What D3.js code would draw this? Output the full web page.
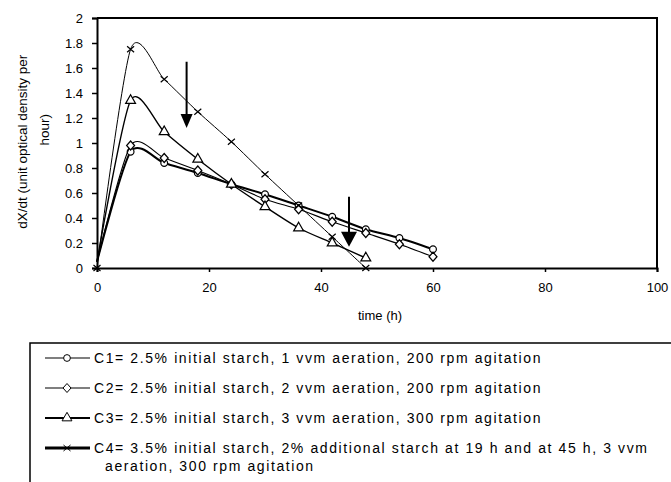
<!DOCTYPE html>
<html>
<head>
<meta charset="utf-8">
<script src="https://cdn.jsdelivr.net/npm/d3@7"></script>
<style>
  body { margin: 0; background: #fff; }
  svg { font-family: Arial, "Liberation Sans", sans-serif; }
</style>
</head>
<body>
<div id="chart"></div>
<script>
let width = 671
let height = 482

// sampling times (h) and the four runs
let times = [0, 6, 12, 18, 24, 30, 36, 42, 48, 54, 60]
let c1 = [0.05, 0.93, 0.84, 0.76, 0.67, 0.59, 0.50, 0.41, 0.31, 0.24, 0.15]
let c2 = [0.05, 0.98, 0.88, 0.78, 0.67, 0.55, 0.47, 0.37, 0.28, 0.19, 0.09]
let c3 = [0.05, 1.34, 1.09, 0.87, 0.67, 0.49, 0.32, 0.20, 0.08]
let c4 = [0, 1.75, 1.51, 1.25, 1.01, 0.75, 0.50, 0.25, 0]

let xTicks = [0, 20, 40, 60, 80, 100]
let yTicks = [0, 0.2, 0.4, 0.6, 0.8, 1, 1.2, 1.4, 1.6, 1.8, 2]

// starch additions: [time, from, to]
let arrows = [[16, 1.65, 1.12], [45, 0.57, 0.17]]

let legendLabels = [
  ['C1= 2.5% initial starch, 1 vvm aeration, 200 rpm agitation'],
  ['C2= 2.5% initial starch, 2 vvm aeration, 200 rpm agitation'],
  ['C3= 2.5% initial starch, 3 vvm aeration, 300 rpm agitation'],
  ['C4= 3.5% initial starch, 2% additional starch at 19 h and at 45 h, 3 vvm', 'aeration, 300 rpm agitation']
]

let xScale = d3.scaleLinear().domain([0, 100]).range([97, 657])
let yScale = d3.scaleLinear().domain([0, 2]).range([268, 18])

let svg = d3.select('#chart').append('svg')
  .attr('width', width)
  .attr('height', height)

// frame: top and right
svg.append('path')
  .attr('d', `M${xScale(0)},${yScale(2)}H${xScale(100)}V${yScale(0)}`)
  .attr('fill', 'none').attr('stroke', '#000').attr('stroke-width', 2)

svg.append('g')
  .attr('transform', 'translate(' + xScale(0) + ',0)')
  .call(d3.axisLeft(yScale).tickValues(yTicks).tickSize(5).tickPadding(9)
    .tickFormat(d => String(+d.toFixed(1))))
svg.append('g')
  .attr('transform', 'translate(0,' + yScale(0) + ')')
  .call(d3.axisBottom(xScale).tickValues(xTicks).tickSize(4).tickPadding(11))

svg.selectAll('.domain').attr('stroke', '#000').attr('stroke-width', 2)
svg.selectAll('.tick line').attr('stroke', '#000').attr('stroke-width', 1.5)
svg.selectAll('.tick text').attr('font-size', 13).attr('fill', '#000')
  .attr('font-family', 'Arial, "Liberation Sans", sans-serif')

svg.append('text')
  .attr('x', xScale(50) + 3).attr('y', 320)
  .attr('text-anchor', 'middle').attr('font-size', 13)
  .text('time (h)')

let ylab = svg.append('text')
  .attr('transform', 'translate(27,' + yScale(1.01) + ') rotate(-90)')
  .attr('text-anchor', 'middle').attr('font-size', 13.5)
ylab.append('tspan').attr('x', 0).attr('dy', 0).text('dX/dt (unit optical density per')
ylab.append('tspan').attr('x', 12).attr('dy', 22).text('hour)')

let series = [
  { vals: c1, sym: 'circle', width: 2 },
  { vals: c2, sym: 'diamond', width: 1.2 },
  { vals: c3, sym: 'triangle', width: 1.4 },
  { vals: c4, sym: 'cross', width: 1 }
]

let line = d3.line()
  .x(d => xScale(d[0]))
  .y(d => yScale(d[1]))
  .curve(d3.curveCardinal.tension(0.25))

let symbolPath = {
  circle: d3.symbol(d3.symbolCircle, 36)(),
  diamond: 'M0,-4.5L4,0L0,4.5L-4,0Z',
  triangle: d3.symbol(d3.symbolTriangle, 42)(),
  cross: 'M-3.5,-3L3.5,3M-3.5,3L3.5,-3'
}

let plot = svg.append('g')
series.forEach(s => {
  let pts = s.vals.map((v, i) => [times[i], v])
  plot.append('path')
    .attr('d', line(pts))
    .attr('fill', 'none').attr('stroke', '#000').attr('stroke-width', s.width)
  // the open markers at t=0 are hidden behind the axis in the original
  let shown = s.sym === 'cross' ? pts : pts.filter(d => d[0] > 0)
  plot.selectAll(null).data(shown).enter().append('path')
    .attr('transform', d => 'translate(' + xScale(d[0]) + ',' + yScale(d[1]) + ')')
    .attr('d', symbolPath[s.sym])
    .attr('fill', s.sym === 'cross' ? 'none' : '#fff')
    .attr('stroke', '#000').attr('stroke-width', 1.2)
})

// arrows
arrows.forEach((a, i) => {
  let x = xScale(a[0])
  let y0 = yScale(a[1])
  let y1 = yScale(a[2])
  let hw = i === 0 ? 6 : 8
  let hh = i === 0 ? 14 : 15
  plot.append('line')
    .attr('x1', x).attr('x2', x).attr('y1', y0).attr('y2', y1 - hh + 2)
    .attr('stroke', '#000').attr('stroke-width', 2)
  plot.append('path')
    .attr('d', `M${x - hw},${y1 - hh}L${x + hw},${y1 - hh}L${x},${y1}Z`)
    .attr('fill', '#000')
})

// legend box (runs off the right and bottom edge)
svg.append('path')
  .attr('d', 'M30,' + (height + 2) + 'V343H' + (width + 2))
  .attr('fill', 'none').attr('stroke', '#000').attr('stroke-width', 1.5)

let rowY = [358, 388, 418, 448]
let legend = svg.append('g')
series.forEach((s, i) => {
  let g = legend.append('g').attr('transform', 'translate(0,' + rowY[i] + ')')
  g.append('line').attr('x1', 45).attr('x2', 90).attr('y1', 0).attr('y2', 0)
    .attr('stroke', '#000').attr('stroke-width', i === 3 ? 3 : (i === 2 ? 2 : 1.2))
  g.append('path').attr('transform', 'translate(67,0)')
    .attr('d', symbolPath[s.sym])
    .attr('fill', s.sym === 'cross' ? 'none' : '#fff')
    .attr('stroke', '#000').attr('stroke-width', 1)
  legendLabels[i].forEach((t, j) => {
    g.append('text').attr('x', j === 0 ? 94 : 105).attr('y', 5 + j * 18)
      .attr('font-size', 14).attr('letter-spacing', 1.6).text(t)
  })
})
</script>
</body>
</html>
